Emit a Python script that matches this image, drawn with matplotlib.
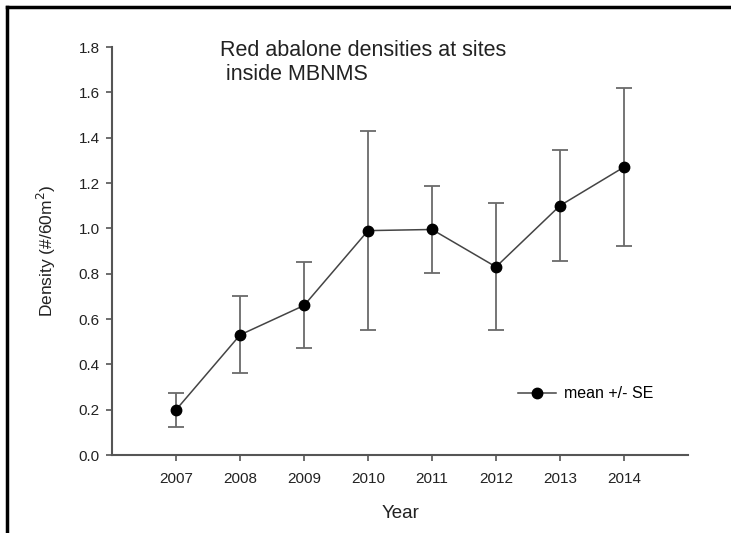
import numpy as np
import matplotlib
matplotlib.use("Agg")
import matplotlib.pyplot as plt
from matplotlib.lines import Line2D

plt.rcParams['font.family'] = ['Liberation Sans', 'DejaVu Sans']

years = [2007, 2008, 2009, 2010, 2011, 2012, 2013, 2014]
density = [0.20, 0.53, 0.66, 0.99, 0.995, 0.83, 1.10, 1.27]
se = [0.075, 0.17, 0.19, 0.44, 0.19, 0.28, 0.245, 0.35]

axis_grey = '#555555'
text_col = '#222222'

fig = plt.figure(figsize=(7.31, 5.33), dpi=100)
ax = fig.add_axes([0.1535, 0.1463, 0.7875, 0.7655])

ax.errorbar(years, density, yerr=se, fmt='none', ecolor='#6a6a6a',
            elinewidth=1.3, capsize=6, capthick=1.3, zorder=2)
ax.plot(years, density, color='#444444', lw=1.1, marker='o', ms=7.5,
        mfc='black', mec='black', label='mean +/- SE', zorder=3)

ax.set_xlim(2006, 2015)
ax.set_ylim(0, 1.8)
ax.set_xticks(years)
yt = np.arange(0, 1.81, 0.2)
ax.set_yticks(yt)
ax.set_yticklabels([f'{v:.1f}' for v in yt])

for s in ['top', 'right']:
    ax.spines[s].set_visible(False)
for s in ['left', 'bottom']:
    ax.spines[s].set_color(axis_grey)
    ax.spines[s].set_linewidth(1.5)
ax.tick_params(direction='out', length=4, width=1.2, color=axis_grey,
               labelsize=11, labelcolor=text_col, pad=5)
ax.tick_params(axis='x', pad=8)

ax.set_xlabel('Year', fontsize=13.5, color=text_col, labelpad=14)
ax.set_ylabel('Density (#/60m$^2$)', fontsize=12.5, color=text_col, labelpad=15)

ax.text(0.1875, 0.962, 'Red abalone densities at sites\n inside MBNMS',
        transform=ax.transAxes, fontsize=15.5, color=text_col,
        va='center', ha='left', linespacing=1.15)

ax.legend(loc='center left', bbox_to_anchor=(0.68, 0.15), frameon=False,
          fontsize=11.5, handlelength=2.4, handletextpad=0.5)

# black frame around the figure (left and top edges)
fig.add_artist(Line2D([0.0089, 0.0089], [0, 0.9869], color='black', lw=2.5,
                      transform=fig.transFigure))
fig.add_artist(Line2D([0.0089, 1.0], [0.9869, 0.9869], color='black', lw=2.5,
                      transform=fig.transFigure))

fig.savefig('out.png', dpi=100)
